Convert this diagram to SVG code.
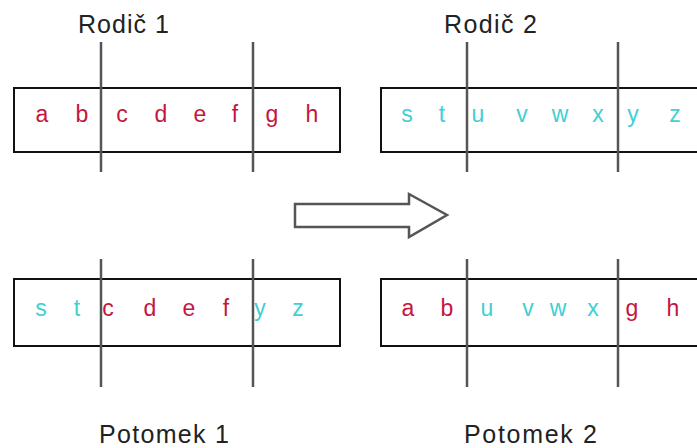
<svg xmlns="http://www.w3.org/2000/svg" width="697" height="448" viewBox="0 0 697 448">
<style>
.box{fill:#fff;stroke:#111;stroke-width:2}
.cut{stroke:#555;stroke-width:2.5}
.lbl{font-family:"Liberation Sans",Arial,sans-serif;font-size:25px;fill:#222}
.g{font-family:"Liberation Sans",Arial,sans-serif;font-size:23px;text-anchor:middle}
.r{fill:#c4163e}
.c{fill:#40d0d4}
</style>
<rect width="697" height="448" fill="#fff"/>
<g id="parent1">
<text class="lbl" x="78" y="33" textLength="91">Rodič 1</text>
<rect class="box" x="14" y="88" width="326" height="64"/>
<g class="g r">
<text x="42" y="122">a</text><text x="82" y="122">b</text><text x="122" y="122">c</text><text x="161" y="122">d</text><text x="200" y="122">e</text><text x="235" y="122">f</text><text x="272" y="122">g</text><text x="312" y="122">h</text>
</g>
<line class="cut" x1="101" y1="42" x2="101" y2="172"/>
<line class="cut" x1="253" y1="42" x2="253" y2="172"/>
</g>
<g id="parent2">
<text class="lbl" x="444" y="33" textLength="93">Rodič 2</text>
<rect class="box" x="381" y="88" width="330" height="64"/>
<g class="g c">
<text x="407" y="122">s</text><text x="442" y="122">t</text><text x="478" y="122">u</text><text x="522" y="122">v</text><text x="560" y="122">w</text><text x="598" y="122">x</text><text x="633" y="122">y</text><text x="675" y="122">z</text>
</g>
<line class="cut" x1="467" y1="42" x2="467" y2="172"/>
<line class="cut" x1="618" y1="42" x2="618" y2="172"/>
</g>
<g id="arrow">
<polygon points="295,204 409,204 409,194 447,215 409,237 409,227 295,227" fill="#fff" stroke="#555" stroke-width="2.5"/>
</g>
<g id="child1">
<rect class="box" x="14" y="279" width="326" height="67"/>
<g class="g">
<text class="c" x="41" y="316">s</text><text class="c" x="77" y="316">t</text><text class="r" x="108" y="316">c</text><text class="r" x="150" y="316">d</text><text class="r" x="189" y="316">e</text><text class="r" x="226" y="316">f</text><text class="c" x="260" y="316">y</text><text class="c" x="298" y="316">z</text>
</g>
<line class="cut" x1="101" y1="259" x2="101" y2="387"/>
<line class="cut" x1="253" y1="259" x2="253" y2="387"/>
<text class="lbl" x="99" y="443" font-size="26" textLength="130">Potomek 1</text>
</g>
<g id="child2">
<rect class="box" x="381" y="279" width="330" height="67"/>
<g class="g">
<text class="r" x="408" y="316">a</text><text class="r" x="447" y="316">b</text><text class="c" x="487" y="316">u</text><text class="c" x="528" y="316">v</text><text class="c" x="558" y="316">w</text><text class="c" x="593" y="316">x</text><text class="r" x="632" y="316">g</text><text class="r" x="673" y="316">h</text>
</g>
<line class="cut" x1="467" y1="259" x2="467" y2="387"/>
<line class="cut" x1="618" y1="259" x2="618" y2="387"/>
<text class="lbl" x="464" y="443" font-size="26" textLength="133">Potomek 2</text>
</g>
</svg>
